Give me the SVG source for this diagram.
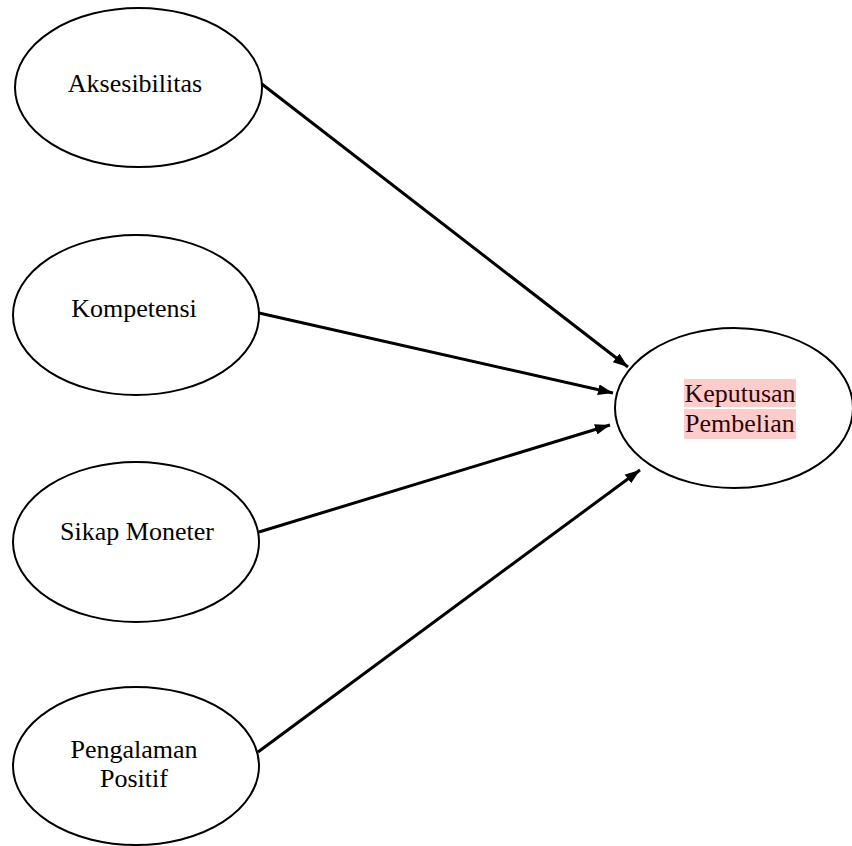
<svg xmlns="http://www.w3.org/2000/svg" width="852" height="846" viewBox="0 0 852 846">
<defs>
<style>
.node ellipse{fill:#fff;stroke:#000;stroke-width:2}
.node text{font-family:"Liberation Serif","Times New Roman",serif;font-size:26px;fill:#000;text-anchor:middle}
.conn line{stroke:#000;stroke-width:3}
.hl{fill:#ffcccc}
</style>
<marker id="arr" viewBox="0 0 10 10" refX="10" refY="5" markerWidth="5" markerHeight="3.6" markerUnits="strokeWidth" orient="auto" preserveAspectRatio="none">
<path d="M0,0 L10,5 L0,10 Z" fill="#000"/>
</marker>
</defs>
<rect width="852" height="846" fill="#fff"/>
<g id="connectors" class="conn">
<line x1="258" y1="81" x2="628" y2="367" marker-end="url(#arr)"/>
<line x1="259" y1="313" x2="613" y2="393" marker-end="url(#arr)"/>
<line x1="259" y1="532" x2="610" y2="425" marker-end="url(#arr)"/>
<line x1="258" y1="752" x2="640" y2="470" marker-end="url(#arr)"/>
</g>
<g id="aksesibilitas" class="node">
<ellipse cx="138.5" cy="87.5" rx="123.5" ry="79.5"/>
<text x="135" y="92">Aksesibilitas</text>
</g>
<g id="kompetensi" class="node">
<ellipse cx="136" cy="315" rx="123" ry="80"/>
<text x="134" y="317">Kompetensi</text>
</g>
<g id="sikap-moneter" class="node">
<ellipse cx="136" cy="542" rx="123" ry="80"/>
<text x="137" y="540">Sikap Moneter</text>
</g>
<g id="pengalaman-positif" class="node">
<ellipse cx="136" cy="766" rx="123" ry="79"/>
<text x="134" y="758">Pengalaman</text>
<text x="134" y="787">Positif</text>
</g>
<g id="keputusan-pembelian" class="node">
<ellipse cx="734" cy="408" rx="119" ry="80"/>
<rect class="hl" x="684" y="379" width="112" height="28"/>
<rect class="hl" x="684" y="409" width="112" height="30"/>
<text x="740" y="402" style="fill:#2a0505">Keputusan</text>
<text x="740" y="432" style="fill:#2a0505">Pembelian</text>
</g>
</svg>
